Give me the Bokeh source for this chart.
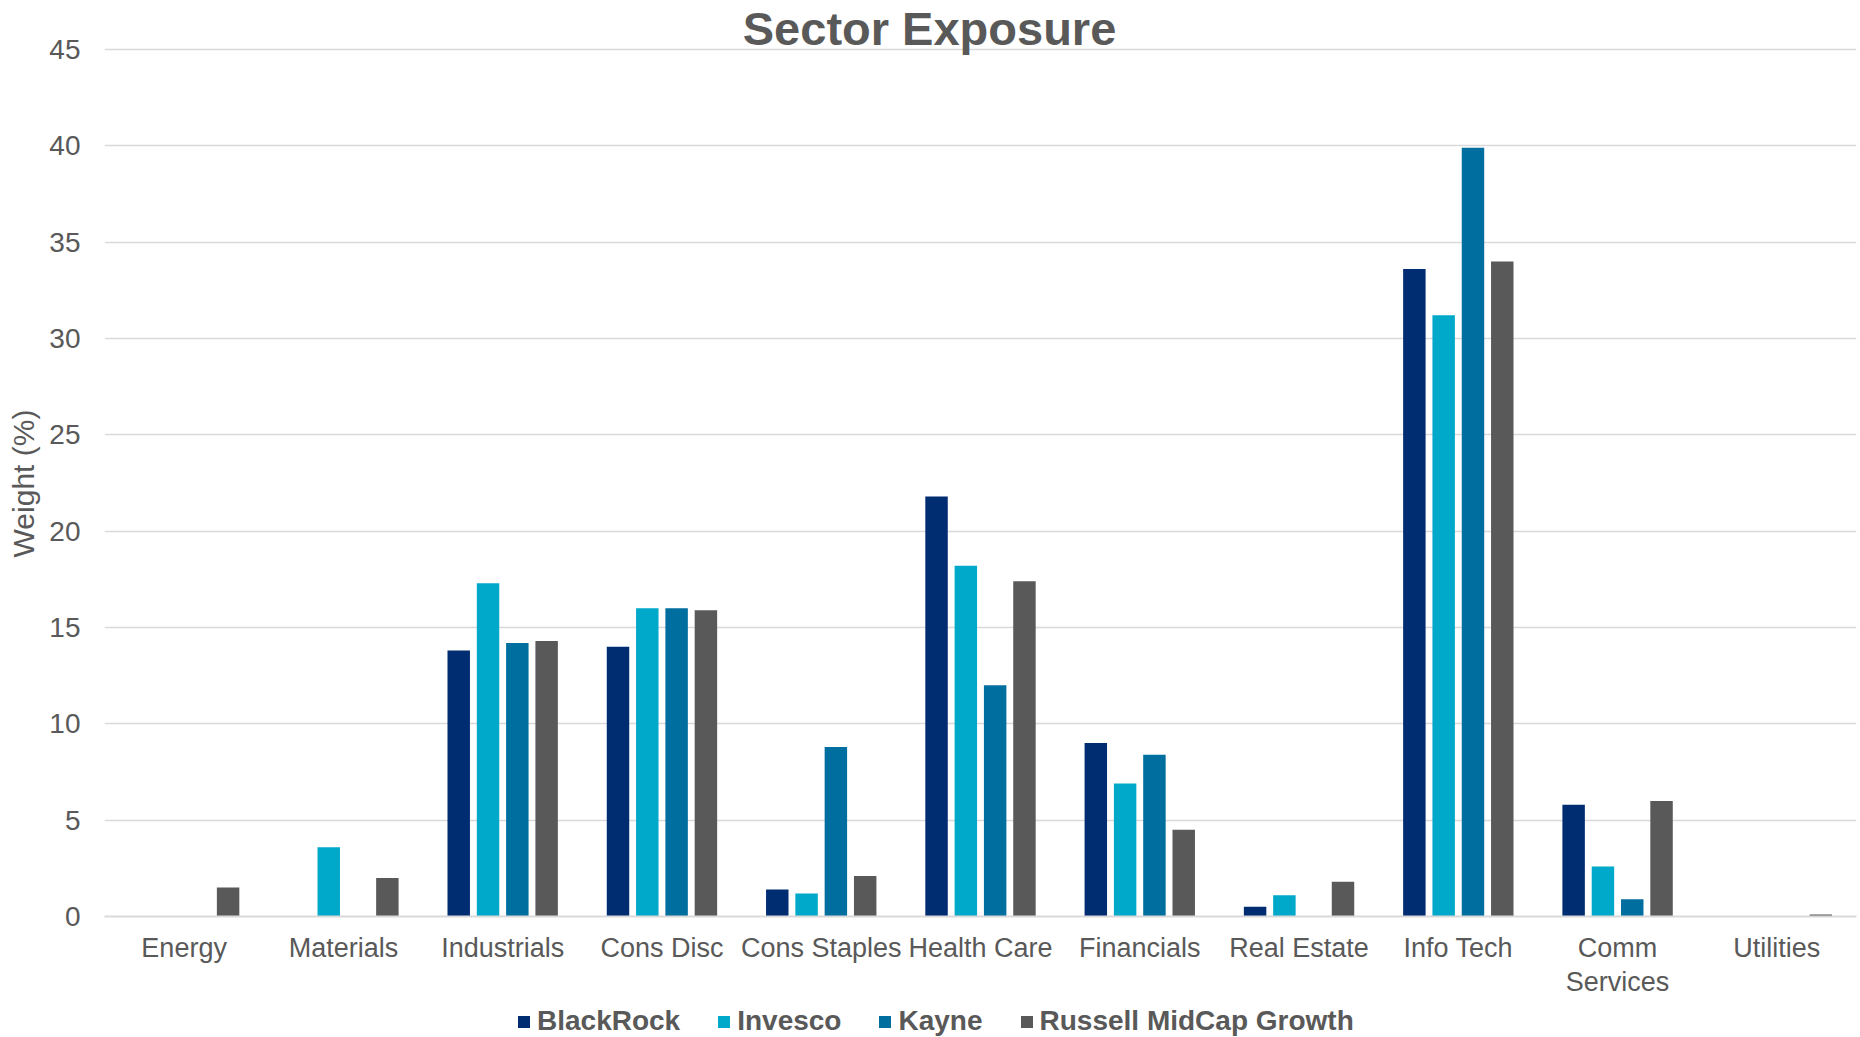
from bokeh.plotting import figure
from bokeh.layouts import column
from bokeh.models import ColumnDataSource, FactorRange, Range1d, FixedTicker, Legend, LegendItem, Label
from bokeh.transform import dodge
from bokeh.embed import file_html
from bokeh.resources import INLINE

sectors = ["Energy", "Materials", "Industrials", "Cons Disc", "Cons Staples", "Health Care",
           "Financials", "Real Estate", "Info Tech", "Comm\nServices", "Utilities"]
blackrock = [0, 0, 13.8, 14.0, 1.4, 21.8, 9.0, 0.5, 33.6, 5.8, 0]
invesco = [0, 3.6, 17.3, 16.0, 1.2, 18.2, 6.9, 1.1, 31.2, 2.6, 0]
kayne = [0, 0, 14.2, 16.0, 8.8, 12.0, 8.4, 0, 39.9, 0.9, 0]
russell = [1.5, 2.0, 14.3, 15.9, 2.1, 17.4, 4.5, 1.8, 34.0, 6.0, 0.1]
series_names = ["BlackRock", "Invesco", "Kayne", "Russell MidCap Growth"]
y_ticks = [0, 5, 10, 15, 20, 25, 30, 35, 40, 45]

colors = ["#002D72", "#00A9C9", "#006E9F", "#595959"]
FONT = "Liberation Sans"
TXT = "#595959"

source = ColumnDataSource(dict(sector=sectors, b=blackrock, i=invesco, k=kayne, r=russell))

p = figure(width=1860, height=1000, output_backend="svg", toolbar_location=None,
           x_range=FactorRange(*sectors, range_padding=0), y_range=Range1d(0, 47.54),
           min_border_left=104, min_border_right=4, min_border_top=0, min_border_bottom=82)
p.outline_line_color = None
p.background_fill_color = "white"
p.border_fill_color = "white"

cols = ["b", "i", "k", "r"]
offsets = [-0.276, -0.092, 0.092, 0.276]
for c, off, col in zip(cols, offsets, colors):
    p.vbar(x=dodge("sector", off, range=p.x_range), top=c, width=0.141, source=source,
           fill_color=col, line_color=None)

# axes
p.yaxis.ticker = FixedTicker(ticks=y_ticks)
p.yaxis.axis_line_color = None
p.yaxis.major_tick_line_color = None
p.yaxis.minor_tick_line_color = None
p.yaxis.major_tick_out = 0
p.yaxis.minor_tick_out = 0
p.yaxis.major_label_standoff = 24
p.yaxis.major_label_text_font = FONT
p.yaxis.major_label_text_font_size = "28px"
p.yaxis.major_label_text_color = TXT
p.yaxis.axis_label = "Weight (%)" + "\u00a0" * 6
p.yaxis.axis_label_text_font = FONT
p.yaxis.axis_label_text_font_size = "30px"
p.yaxis.axis_label_text_font_style = "normal"
p.yaxis.axis_label_text_color = TXT
p.yaxis.axis_label_standoff = 6

p.xaxis.axis_line_color = "#D9D9D9"
p.xaxis.axis_line_width = 2
p.xaxis.major_tick_line_color = None
p.xaxis.minor_tick_line_color = None
p.xaxis.major_tick_out = 0
p.xaxis.minor_tick_out = 0
p.xaxis.major_label_standoff = 16
p.xaxis.major_label_text_font = FONT
p.xaxis.major_label_text_font_size = "27px"
p.xaxis.major_label_text_line_height = 1.15
p.xaxis.major_label_text_color = TXT

p.xgrid.grid_line_color = None
p.ygrid.grid_line_color = "#D9D9D9"
p.ygrid.grid_line_width = 1.5

title = Label(x=5.18, y=46.1, text="Sector Exposure", text_align="center", text_baseline="alphabetic",
              text_font=FONT, text_font_size="47px", text_font_style="bold", text_color=TXT)
p.add_layout(title)

# legend strip below the chart (swatch renderers sit far outside its visible range)
lg = figure(width=1860, height=37, output_backend="svg", toolbar_location=None,
            x_range=Range1d(0, 1), y_range=Range1d(0, 1), x_axis_location=None, y_axis_location=None,
            min_border_left=0, min_border_right=0, min_border_top=0, min_border_bottom=0)
lg.outline_line_color = None
lg.xgrid.grid_line_color = None
lg.ygrid.grid_line_color = None
swatches = [lg.vbar(x=[-50], bottom=[-50], top=[-40], width=0.1, fill_color=col, line_color=None)
            for col in colors]

legend = Legend(items=[LegendItem(label=n, renderers=[r]) for n, r in zip(series_names, swatches)],
                orientation="horizontal", location=(412, 0),
                glyph_width=15, glyph_height=15, label_standoff=6, spacing=36,
                label_text_font=FONT, label_text_font_size="28px", label_text_font_style="bold",
                label_text_color=TXT, border_line_color=None, background_fill_alpha=0,
                padding=0, margin=0)
lg.add_layout(legend, "center")

layout = column(p, lg, spacing=0)
open("out.html", "w").write(file_html(layout, INLINE))
